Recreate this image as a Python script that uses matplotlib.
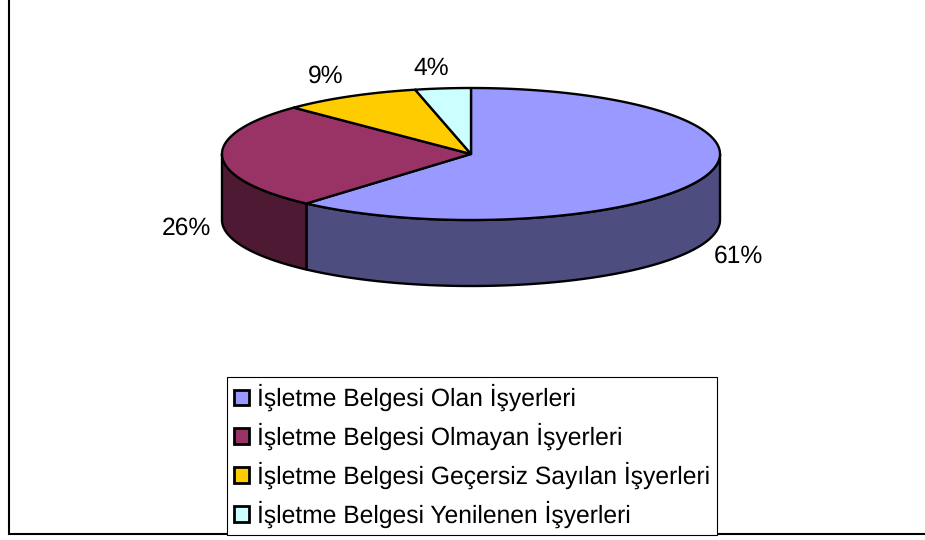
import numpy as np
import matplotlib
matplotlib.use("Agg")
import matplotlib.pyplot as plt
from matplotlib.patches import Polygon, Patch

categories = [
    "İşletme Belgesi Olan İşyerleri",
    "İşletme Belgesi Olmayan İşyerleri",
    "İşletme Belgesi Geçersiz Sayılan İşyerleri",
    "İşletme Belgesi Yenilenen İşyerleri",
]
values = [61.49, 25.91, 9.0, 3.6]
top_colors = ["#9999FF", "#993366", "#FFCC00", "#CCFFFF"]
side_colors = ["#4D4D80", "#4D1933", "#806600", "#668080"]
label_pos = [(738, 256), (186, 228), (326, 76), (431, 68)]

plt.rcParams["font.family"] = ["Liberation Sans", "DejaVu Sans"]
plt.rcParams["text.hinting"] = "none"

W, H = 925, 540
cx, cy, a, b, depth = 471, 154, 249, 66, 66
font_px = 24.6
font_pt = font_px * 72 / 100


def rim(t0, t1, dy=0):
    t = np.radians(np.linspace(t0, t1, 200))
    return np.column_stack([cx + a * np.sin(t), cy + dy - b * np.cos(t)])


fig = plt.figure(figsize=(W / 100, H / 100), dpi=100)
ax = fig.add_axes([0, 0, 1, 1])
ax.set_xlim(0, W)
ax.set_ylim(H, 0)
ax.axis("off")

edges = np.concatenate([[0], np.cumsum(values)]) * 3.6

# side walls, only the front half of the rim can be seen
for i in range(len(values)):
    t0, t1 = max(edges[i], 90), min(edges[i + 1], 270)
    if t1 > t0:
        pts = np.vstack([rim(t0, t1), rim(t0, t1, depth)[::-1]])
        ax.add_patch(Polygon(pts, closed=True, fc=side_colors[i], ec="black", lw=1.7, joinstyle="round"))

# top of the pie
for i in range(len(values)):
    pts = np.vstack([[cx, cy], rim(edges[i], edges[i + 1])])
    ax.add_patch(Polygon(pts, closed=True, fc=top_colors[i], ec="black", lw=1.7, joinstyle="round"))

for v, (x, y) in zip(values, label_pos):
    ax.text(x, y, f"{v:.0f}%", ha="center", va="center", fontsize=font_pt, color="black")

# outer chart frame, cut off at top and right
ax.plot([9, 9, W], [0, 534, 534], color="black", lw=1.5, solid_joinstyle="miter")

handles = [Patch(fc=c, ec="black", lw=2.0) for c in top_colors]
leg = ax.legend(
    handles, categories, loc="upper left",
    bbox_to_anchor=(227 / W, 1 - 377 / H), bbox_transform=ax.transAxes,
    fontsize=font_pt, frameon=True, fancybox=False, framealpha=1,
    edgecolor="black", borderaxespad=0, borderpad=0.28,
    handlelength=0.6, handleheight=0.6, handletextpad=0.34, labelspacing=0.47,
)
leg.get_frame().set_linewidth(0.8)

fig.savefig("out.png", dpi=100)
